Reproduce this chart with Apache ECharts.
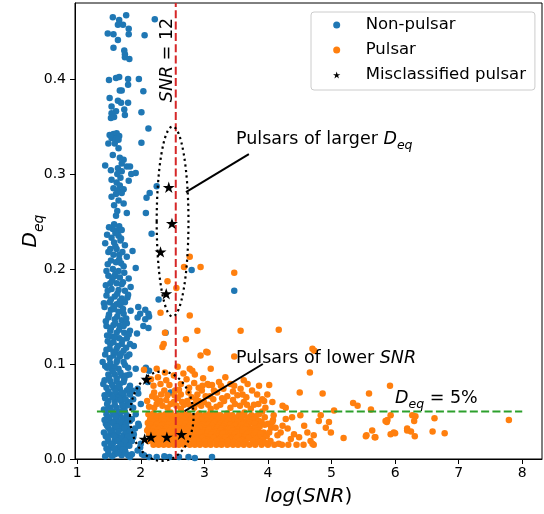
<!DOCTYPE html>
<html>
<head>
<meta charset="utf-8">
<script src="https://cdn.jsdelivr.net/npm/echarts@6/dist/echarts.min.js"></script>
<style>html,body{margin:0;padding:0;background:#fff}#chart{width:544px;height:514px}</style>
</head>
<body>
<div id="chart"></div>
<script>
// ---------------- data ----------------
const xTicks = [1, 2, 3, 4, 5, 6, 7, 8];
const yTicks = [0, 0.1, 0.2, 0.3, 0.4];
const snrThreshold = 2.55;      // log(SNR) of SNR = 12 line
const deqThreshold = 0.05;      // D_eq = 5% line
const deqLineRange = [1.31, 8.0];

const nonPulsar = [
[1.56,0.465],[1.66,0.462],[1.77,0.467],[1.64,0.457],[1.72,0.457],[1.81,0.453],[1.48,0.448],[1.57,0.447],[1.81,0.447],[1.64,0.441],[1.57,0.433],[1.74,0.430],[1.75,0.426],[1.75,0.423],[1.82,0.421],[2.06,0.446],[2.22,0.463],
[1.50,0.399],[1.61,0.401],[1.66,0.402],[1.80,0.400],[1.97,0.400],[1.80,0.394],[1.67,0.388],[1.70,0.388],[2.04,0.387],[1.51,0.380],[1.64,0.377],[1.69,0.375],[1.80,0.375],[1.54,0.371],[1.74,0.368],[1.61,0.366],[1.54,0.364],[2.01,0.365],[1.75,0.362],[1.53,0.359],[1.58,0.360],[2.12,0.348],[2.01,0.333],
[1.51,0.341],[1.57,0.342],[1.62,0.343],[1.66,0.340],[1.54,0.338],[1.61,0.337],[1.65,0.336],[1.49,0.332],[1.59,0.332],[1.65,0.327],[1.56,0.320],[1.67,0.317],[1.73,0.315],[1.70,0.311],[1.78,0.308],[1.44,0.309],[1.53,0.304],[1.64,0.306],[1.70,0.303],[1.83,0.308],[1.92,0.301],[1.85,0.300],[1.63,0.300],[1.68,0.296],[1.54,0.294],[1.62,0.291],[1.81,0.293],[1.67,0.288],[1.57,0.285],[1.64,0.283],[1.73,0.284],[2.25,0.287],[1.61,0.279],[1.70,0.280],[1.54,0.276],[2.14,0.280],[2.09,0.275],[1.65,0.272],[1.73,0.269],[1.58,0.267],[1.63,0.261],[1.78,0.259],[1.61,0.256],[2.08,0.259],[1.58,0.247],[1.66,0.245],[1.56,0.242],[1.63,0.240],[1.70,0.241],[2.17,0.237],
[1.54,0.233],[1.65,0.235],[1.44,0.227],[1.58,0.228],[1.68,0.230],[1.52,0.221],[1.62,0.221],[1.87,0.219],[1.57,0.215],[1.66,0.215],[1.78,0.213],[1.53,0.209],[1.61,0.207],[1.69,0.206],[1.92,0.201],[1.56,0.200],[1.65,0.198],[1.49,0.193],[1.58,0.192],[1.67,0.191],[1.52,0.185],[1.62,0.185],[1.72,0.186],[1.84,0.181],[1.54,0.179],[1.65,0.178],[1.75,0.177],[1.46,0.172],[1.59,0.171],[1.70,0.169],[2.28,0.168],[1.51,0.165],[1.62,0.163],[1.75,0.165],[1.96,0.160],[2.07,0.157],[2.12,0.153],[1.53,0.157],[1.65,0.155],[1.73,0.153],[1.99,0.153],[1.95,0.149],[2.13,0.150],[1.49,0.149],[1.59,0.147],[1.70,0.146],[2.07,0.147],[1.57,0.141],[1.67,0.140],[1.78,0.143],[2.04,0.140],[2.12,0.138],[1.52,0.135],[1.62,0.133],[1.83,0.135],[1.94,0.132],[2.39,0.133],[1.54,0.129],[1.66,0.127],[1.78,0.127],[1.57,0.123],[1.70,0.121],[1.83,0.121],[1.89,0.119],[1.51,0.116],[1.62,0.116],[1.73,0.114],[1.44,0.110],[1.57,0.109],[1.67,0.108],[1.40,0.102],[1.52,0.101],[1.62,0.102],[1.73,0.102],[1.54,0.095],[1.65,0.095],[1.80,0.096],[1.92,0.095],[2.08,0.096],[2.13,0.093],[1.49,0.089],[1.59,0.089],[1.70,0.088],[1.52,0.082],[1.62,0.082],[1.73,0.081],[2.11,0.081],[1.83,0.077],[1.46,0.075],[1.57,0.075],[1.67,0.074],[1.95,0.074],[1.86,0.072],[1.96,0.069],[1.52,0.068],[1.62,0.068],[1.73,0.067],[1.83,0.068],[1.88,0.063],[1.49,0.061],[1.59,0.061],[1.70,0.060],[1.80,0.060],[2.00,0.058],[1.52,0.054],[1.62,0.054],[1.73,0.053],[1.88,0.054],[1.46,0.047],[1.57,0.047],[1.67,0.046],[1.78,0.046],[1.92,0.047],[1.86,0.042],[1.52,0.040],[1.62,0.040],[1.73,0.039],[1.83,0.040],[1.96,0.037],[1.49,0.033],[1.59,0.033],[1.70,0.032],[1.80,0.032],[1.91,0.032],[1.97,0.035],[1.52,0.026],[1.62,0.026],[1.73,0.025],[1.89,0.026],[1.88,0.023],[1.49,0.019],[1.59,0.019],[1.70,0.018],[1.80,0.018],[1.86,0.019],[2.00,0.016],[1.54,0.012],[1.65,0.012],[1.75,0.011],[1.99,0.012],[1.95,0.009],[1.49,0.005],[1.59,0.005],[1.70,0.004],[1.80,0.004],[1.86,0.005],[2.02,0.005],[2.05,0.004],[2.13,0.002],[2.25,0.002],[2.37,0.003],[2.45,0.002],[2.60,0.002],[2.75,0.002],[2.85,0.001],[3.12,0.002],
[1.47,0.236],[1.60,0.224],[1.71,0.218],[1.48,0.205],[1.74,0.196],[1.45,0.183],[1.79,0.170],[1.43,0.160],[1.58,0.158],[1.68,0.162],[1.46,0.140],[1.74,0.133],[1.48,0.124],[1.60,0.112],[1.78,0.108],[1.47,0.096],[1.59,0.097],[1.77,0.088],[1.43,0.083],[1.67,0.079],[1.78,0.072],[1.44,0.064],[1.65,0.065],[1.77,0.056],[1.48,0.052],[1.68,0.050],[1.61,0.043],[1.45,0.037],[1.66,0.036],[1.76,0.029],[1.55,0.029],[1.45,0.024],[1.67,0.022],[1.56,0.016],[1.77,0.015],[1.46,0.011],[1.60,0.009],[1.70,0.008],[2.47,0.070],[2.47,0.035],[2.80,0.199],[3.47,0.177],
[1.50,0.244],[1.60,0.238],[1.69,0.232],[1.75,0.225],[1.49,0.218],[1.66,0.210],[1.73,0.203],[1.46,0.198],[1.60,0.195],[1.81,0.190],[1.55,0.188],[1.70,0.184],[1.48,0.177],[1.63,0.174],[1.80,0.173],[1.53,0.168],[1.67,0.166],[1.42,0.164],[1.57,0.161],[1.72,0.158],[1.84,0.156],[1.50,0.152],[1.63,0.150],[1.77,0.148],[1.45,0.145],[1.60,0.143],[1.73,0.140],[1.53,0.138],[1.66,0.136],[1.81,0.131],[1.47,0.130],[1.59,0.128],[1.71,0.125],[1.52,0.121],[1.64,0.119],[1.77,0.117],[1.46,0.115],[1.57,0.113],[1.69,0.111],[1.82,0.110],[1.51,0.106],[1.63,0.104],[1.75,0.099],[1.44,0.098],[1.56,0.092],[1.68,0.091],[1.82,0.089],[1.50,0.086],[1.62,0.085],[1.74,0.084],[1.41,0.079],[1.55,0.078],[1.64,0.076],[1.81,0.074],[1.49,0.071],[1.60,0.071],[1.70,0.070],[1.43,0.067],[1.56,0.065],[1.68,0.062],[1.76,0.063],[1.47,0.058],[1.59,0.057],[1.71,0.056],[1.83,0.057],[1.42,0.052],[1.55,0.050],[1.65,0.049],[1.75,0.050],[1.50,0.044],[1.60,0.045],[1.71,0.043],[1.80,0.043],[1.43,0.041],[1.56,0.038],[1.67,0.039],[1.77,0.037],[1.47,0.035],[1.62,0.034],[1.74,0.033],[1.52,0.030],[1.65,0.029],[1.83,0.029],[1.42,0.028],[1.58,0.024],[1.70,0.023],[1.80,0.024],[1.48,0.022],[1.63,0.019],[1.75,0.019],[1.53,0.015],[1.68,0.015],[1.82,0.014],[1.43,0.016],[1.58,0.011],[1.72,0.010],[1.49,0.008],[1.64,0.006],[1.76,0.007],[1.55,0.003],[1.83,0.002],[1.44,0.003]
];

const pulsar = [
[2.77,0.213],[2.68,0.202],[2.94,0.202],[3.47,0.196],[2.42,0.187],[2.56,0.180],[2.31,0.154],[2.77,0.151],[2.38,0.133],[2.89,0.135],[2.71,0.126],[2.34,0.118],[2.36,0.121],[3.03,0.113],[3.57,0.135],[4.17,0.136],[4.70,0.116],[4.73,0.114],[3.47,0.108],[2.94,0.109],[3.05,0.112],[4.66,0.091],
[2.05,0.094],[2.25,0.095],[2.77,0.095],[2.81,0.093],[2.85,0.089],[3.10,0.095],[2.16,0.084],[2.52,0.088],[2.63,0.079],[2.31,0.079],[2.76,0.075],[2.91,0.075],[3.05,0.079],[3.23,0.081],[3.41,0.079],[3.57,0.074],[2.97,0.077],[3.07,0.078],[3.26,0.077],[3.47,0.077],[3.68,0.079],[3.86,0.077],[4.02,0.078],[3.99,0.068],[4.50,0.070],[4.86,0.069],[5.59,0.069],[5.92,0.077],[2.21,0.070],[2.42,0.067],[2.63,0.068],[2.89,0.068],[3.20,0.070],[3.52,0.067],[3.83,0.068],
[2.10,0.061],[2.31,0.061],[2.52,0.060],[2.73,0.061],[2.99,0.060],[3.31,0.061],[3.62,0.060],[3.94,0.061],[2.21,0.054],[2.42,0.054],[2.63,0.053],[2.84,0.054],[3.10,0.053],[3.41,0.054],[3.73,0.053],[5.34,0.059],[5.41,0.056],[5.04,0.051],[4.23,0.056],[4.28,0.054],[4.07,0.060],[3.91,0.063],[3.96,0.054],[5.62,0.052],
[2.18,0.066],[2.37,0.072],[2.47,0.058],[2.58,0.064],[2.68,0.057],[2.80,0.065],[2.95,0.056],[3.14,0.063],[3.25,0.057],[3.36,0.066],[3.48,0.058],[3.66,0.065],[3.78,0.057],[2.27,0.086],[2.45,0.078],[2.72,0.084],[2.98,0.085],[3.15,0.072],[3.33,0.086],[3.62,0.083],[3.75,0.072],[2.54,0.072],[2.86,0.058],[3.02,0.066],[3.56,0.056],
[2.13,0.055],[2.25,0.058],[2.34,0.056],[2.56,0.056],[2.77,0.057],[2.91,0.061],[3.06,0.057],[3.19,0.055],[3.45,0.062],[3.67,0.057],[3.85,0.058],[2.24,0.064],[2.40,0.062],[2.65,0.060],[2.87,0.063],[3.09,0.066],[3.28,0.064],[3.45,0.071],[3.60,0.068],[2.32,0.068],[2.53,0.067],[2.75,0.070],[2.96,0.072],[3.12,0.078],[3.30,0.074],[2.20,0.077],[2.40,0.083],[2.60,0.073],[2.84,0.080],[2.67,0.090],[2.38,0.091],[2.58,0.097],
[2.12,0.047],[2.20,0.048],[2.31,0.046],[2.39,0.047],[2.47,0.049],[2.58,0.046],[2.66,0.048],[2.75,0.047],[2.83,0.045],[2.92,0.048],[3.01,0.046],[3.09,0.048],[3.18,0.047],[3.27,0.045],[3.36,0.048],[3.44,0.046],[3.55,0.047],[3.63,0.049],[3.74,0.046],[3.86,0.047],
[2.17,0.045],[2.26,0.045],[2.35,0.044],[2.44,0.045],[2.54,0.045],[2.63,0.044],[2.72,0.045],[2.81,0.044],[2.90,0.046],[2.99,0.044],[3.07,0.045],[3.16,0.044],[3.25,0.046],[3.34,0.044],[3.42,0.045],[3.52,0.044],[3.61,0.046],[3.70,0.044],[3.81,0.045],
[2.15,0.043],[2.24,0.042],[2.33,0.044],[2.43,0.042],[2.52,0.043],[2.61,0.041],[2.70,0.043],[2.79,0.042],[2.88,0.044],[2.97,0.042],[3.05,0.043],[3.14,0.041],[3.23,0.043],[3.31,0.044],[3.40,0.042],[3.49,0.043],[3.58,0.041],[3.68,0.043],[3.79,0.042],[3.95,0.044],[4.08,0.041],
[2.14,0.040],[2.23,0.040],[2.33,0.040],[2.41,0.041],[2.50,0.040],[2.60,0.040],[2.68,0.041],[2.77,0.040],[2.86,0.040],[2.95,0.041],[3.04,0.040],[3.12,0.040],[3.21,0.041],[3.30,0.040],[3.38,0.040],[3.47,0.041],[3.56,0.040],[3.66,0.040],[3.76,0.041],[3.86,0.040],
[2.11,0.038],[2.19,0.039],[2.28,0.037],[2.37,0.039],[2.45,0.038],[2.55,0.037],[2.64,0.039],[2.73,0.038],[2.81,0.036],[2.90,0.039],[2.99,0.037],[3.08,0.038],[3.16,0.039],[3.25,0.037],[3.34,0.038],[3.43,0.036],[3.52,0.039],[3.61,0.037],[3.71,0.038],[3.82,0.036],[3.90,0.039],[4.00,0.037],
[2.16,0.036],[2.25,0.036],[2.34,0.036],[2.43,0.036],[2.52,0.036],[2.61,0.036],[2.70,0.037],[2.79,0.036],[2.88,0.036],[2.97,0.036],[3.06,0.036],[3.14,0.037],[3.23,0.035],[3.32,0.036],[3.41,0.036],[3.50,0.036],[3.59,0.036],[3.69,0.036],[3.79,0.037],[3.95,0.036],
[2.14,0.034],[2.23,0.033],[2.32,0.035],[2.41,0.033],[2.50,0.034],[2.59,0.032],[2.68,0.034],[2.77,0.035],[2.86,0.033],[2.95,0.034],[3.03,0.032],[3.12,0.035],[3.21,0.033],[3.30,0.034],[3.39,0.032],[3.47,0.035],[3.56,0.033],[3.66,0.034],[3.76,0.032],[3.87,0.034],[4.05,0.033],
[2.12,0.032],[2.21,0.032],[2.30,0.032],[2.39,0.031],[2.48,0.032],[2.57,0.032],[2.66,0.032],[2.75,0.033],[2.84,0.032],[2.93,0.032],[3.01,0.030],[3.10,0.032],[3.19,0.031],[3.28,0.032],[3.37,0.030],[3.42,0.032],[3.51,0.031],[3.61,0.032],[3.70,0.031],[3.80,0.032],
[2.10,0.030],[2.18,0.029],[2.27,0.031],[2.36,0.029],[2.46,0.030],[2.54,0.028],[2.63,0.030],[2.72,0.031],[2.80,0.029],[2.89,0.030],[2.98,0.028],[3.07,0.031],[3.17,0.029],[3.26,0.030],[3.35,0.028],[3.45,0.030],[3.54,0.029],[3.64,0.031],[3.73,0.029],[3.84,0.030],[3.93,0.028],
[2.16,0.028],[2.25,0.028],[2.33,0.029],[2.43,0.027],[2.51,0.028],[2.60,0.028],[2.69,0.028],[2.78,0.029],[2.87,0.027],[2.96,0.028],[3.05,0.028],[3.14,0.028],[3.23,0.027],[3.32,0.028],[3.41,0.027],[3.51,0.028],[3.60,0.028],[3.70,0.027],[3.81,0.028],[3.91,0.026],
[2.13,0.026],[2.22,0.025],[2.30,0.027],[2.40,0.025],[2.49,0.026],[2.57,0.024],[2.66,0.026],[2.76,0.027],[2.85,0.025],[2.93,0.026],[3.02,0.024],[3.11,0.026],[3.20,0.025],[3.29,0.027],[3.38,0.025],[3.48,0.026],[3.57,0.024],[3.67,0.026],[3.78,0.025],[3.88,0.027],[3.98,0.024],
[2.19,0.024],[2.28,0.023],[2.37,0.024],[2.46,0.024],[2.55,0.024],[2.64,0.023],[2.73,0.024],[2.82,0.024],[2.91,0.023],[3.00,0.024],[3.09,0.023],[3.18,0.024],[3.27,0.023],[3.36,0.024],[3.45,0.023],[3.54,0.024],[3.63,0.023],[3.73,0.024],[3.85,0.023],
[2.16,0.022],[2.25,0.021],[2.35,0.023],[2.44,0.021],[2.53,0.022],[2.62,0.020],[2.71,0.022],[2.80,0.023],[2.89,0.021],[2.97,0.022],[3.06,0.020],[3.15,0.022],[3.24,0.021],[3.33,0.023],[3.42,0.021],[3.51,0.022],[3.60,0.020],[3.70,0.022],[3.81,0.021],[3.92,0.020],
[2.18,0.020],[2.33,0.020],[2.51,0.020],[2.68,0.020],[2.86,0.020],[3.03,0.020],[3.22,0.020],[3.40,0.020],[3.58,0.020],[3.76,0.019],[3.87,0.018],
[2.12,0.019],[2.21,0.018],[2.29,0.019],[2.38,0.018],[2.48,0.019],[2.56,0.018],[2.65,0.019],[2.74,0.018],[2.83,0.019],[2.92,0.018],[3.00,0.019],[3.10,0.018],[3.19,0.019],[3.28,0.018],[3.37,0.019],[3.46,0.018],[3.55,0.019],[3.65,0.018],
[2.20,0.015],[2.28,0.015],[2.36,0.015],[2.44,0.015],[2.52,0.015],[2.60,0.015],[2.68,0.015],[2.77,0.015],[2.85,0.015],[2.93,0.015],[3.02,0.015],[3.10,0.015],[3.19,0.015],[3.27,0.015],[3.36,0.015],[3.45,0.015],[3.53,0.015],[3.62,0.015],[3.71,0.015],[3.80,0.015],[3.90,0.015],[4.00,0.015],[4.10,0.015],[4.22,0.015],[4.32,0.015],[4.45,0.015],[4.56,0.015],[4.72,0.015],
[4.51,0.046],[4.83,0.046],[4.80,0.040],[4.96,0.039],[4.91,0.033],[4.99,0.028],[5.19,0.022],[5.55,0.025],[5.64,0.030],[5.69,0.023],[5.88,0.041],[5.87,0.039],[5.93,0.026],[5.98,0.028],[4.57,0.035],[4.62,0.028],[4.72,0.025],[4.67,0.019],[4.70,0.016],[4.41,0.026],[4.49,0.023],[4.36,0.021],[4.31,0.032],[4.20,0.028],[4.23,0.035],[4.38,0.044],[4.28,0.042],[4.09,0.046],[4.07,0.039],[4.12,0.033],[4.02,0.028],[4.15,0.025],[4.04,0.019],[4.17,0.016],[3.91,0.050],[3.96,0.017],
[6.27,0.046],[6.32,0.045],[6.30,0.040],[6.62,0.043],[7.79,0.041],[6.19,0.032],[6.19,0.030],[6.25,0.029],[6.31,0.024],[6.59,0.029],[6.78,0.027],[6.00,0.027],[5.93,0.046],[5.85,0.040],[5.54,0.024],[5.68,0.023]
];

const misclassified = [
[2.44,0.286],[2.49,0.248],[2.31,0.218],[2.40,0.174],[2.09,0.084],[2.06,0.021],[2.16,0.023],[2.41,0.023],[2.64,0.026]
];

// annotation geometry (data units): [cx, cy, rx, ry]
const ellipses = [[2.50, 0.250, 0.25, 0.100], [2.33, 0.045, 0.50, 0.047]];
const connectorLarger = [[2.71, 0.281], [3.70, 0.321]];
const connectorLower = [[2.69, 0.0505], [3.92, 0.100]];

// ---------------- chart ----------------
const FONT = 'DejaVu Sans';
const STAR = 'path://M10,0 L12.25,6.91 L19.51,6.91 L13.63,11.18 L15.88,18.09 L10,13.82 L4.12,18.09 L6.37,11.18 L0.49,6.91 L7.75,6.91 Z';
const chart = echarts.init(document.getElementById('chart'), null, {renderer: 'canvas'});

const richBase = {
  n: {fontFamily: FONT, fontSize: 17.5, color: '#000', lineHeight: 26, verticalAlign: 'middle'},
  i: {fontFamily: FONT, fontSize: 17.5, fontStyle: 'italic', color: '#000', lineHeight: 26, verticalAlign: 'middle'},
  s: {fontFamily: FONT, fontSize: 12.5, fontStyle: 'italic', color: '#000', lineHeight: 12, verticalAlign: 'bottom'}
};
function textEl(x, y, text, rotation) {
  return {
    type: 'text', x: x, y: y, rotation: rotation || 0, silent: true, z: 100,
    style: {text: text, rich: richBase, x: 0, y: 0, align: rotation ? 'center' : 'left', verticalAlign: 'middle'}
  };
}

const option = {
  animation: false,
  backgroundColor: '#fff',
  grid: {left: 75, right: 2, top: 3, bottom: 55, show: true, borderColor: '#000', borderWidth: 1, backgroundColor: 'transparent', containLabel: false, outerBoundsMode: 'none'},
  xAxis: {
    type: 'value', min: 0.965, max: 8.311,
    name: '{i|log}{n|(}{i|SNR}{n|)}', nameLocation: 'middle', nameGap: 28, nameMoveOverlap: false,
    nameTextStyle: {rich: {
      i: {fontFamily: FONT, fontSize: 20, fontStyle: 'italic', color: '#000'},
      n: {fontFamily: FONT, fontSize: 20, color: '#000'}
    }},
    axisLine: {show: true, onZero: false, lineStyle: {color: '#000', width: 1}},
    axisTick: {show: true, customValues: xTicks, length: 5, lineStyle: {color: '#000', width: 1}},
    axisLabel: {show: true, customValues: xTicks, formatter: v => String(v), fontFamily: FONT, fontSize: 14, color: '#000', margin: 7},
    splitLine: {show: false}
  },
  yAxis: {
    type: 'value', min: 0, max: 0.48,
    name: '{i|D}{s|eq}', nameLocation: 'middle', nameGap: 29, nameRotate: 90, nameMoveOverlap: false,
    nameTextStyle: {rich: {
      i: {fontFamily: FONT, fontSize: 20, fontStyle: 'italic', color: '#000', lineHeight: 30, verticalAlign: 'middle'},
      s: {fontFamily: FONT, fontSize: 14, fontStyle: 'italic', color: '#000', lineHeight: 14, verticalAlign: 'bottom'}
    }},
    axisLine: {show: true, onZero: false, lineStyle: {color: '#000', width: 1}},
    axisTick: {show: true, customValues: yTicks, length: 5, lineStyle: {color: '#000', width: 1}},
    axisLabel: {show: true, customValues: yTicks, formatter: v => v.toFixed(1), fontFamily: FONT, fontSize: 14, color: '#000', margin: 9},
    splitLine: {show: false}
  },
  legend: {
    data: [
      {name: 'Non-pulsar', icon: 'circle'},
      {name: 'Pulsar', icon: 'circle'},
      {name: 'Misclassified pulsar', icon: STAR}
    ],
    orient: 'vertical', left: 311, top: 12,
    itemWidth: 48, itemHeight: 7, itemGap: 7,
    padding: [4, 9, 6, 22],
    backgroundColor: 'rgba(255,255,255,0.8)', borderColor: '#cccccc', borderWidth: 1, borderRadius: 3,
    textStyle: {fontFamily: FONT, fontSize: 16.5, color: '#000', lineHeight: 18},
    selectedMode: false
  },
  graphic: [
    textEl(167, 60, '{i|SNR}{n| = 12}', Math.PI / 2),
    textEl(236, 139, '{n|Pulsars of larger }{i|D}{s|eq}'),
    textEl(236, 358, '{n|Pulsars of lower }{i|SNR}'),
    textEl(395, 398, '{i|D}{s|eq}{n| = 5%}')
  ],
  series: [
    {name: 'Non-pulsar', type: 'scatter', data: nonPulsar, symbol: 'circle', symbolSize: 6.5, itemStyle: {color: '#1f77b4', opacity: 1}, z: 2, silent: true},
    {name: 'Pulsar', type: 'scatter', data: pulsar, symbol: 'circle', symbolSize: 6.5, itemStyle: {color: '#ff7f0e', opacity: 1}, z: 3, silent: true},
    {name: 'Misclassified pulsar', type: 'scatter', data: misclassified, symbol: STAR, symbolKeepAspect: true, symbolSize: 12, itemStyle: {color: '#000', opacity: 1}, z: 6, silent: true},
    {name: 'snrLine', type: 'line', data: [[snrThreshold, 0], [snrThreshold, 0.48]], symbol: 'none', silent: true, z: 4,
      lineStyle: {color: '#d62728', width: 2, type: [8, 3.3]}},
    {name: 'deqLine', type: 'line', data: [[deqLineRange[0], deqThreshold], [deqLineRange[1], deqThreshold]], symbol: 'none', silent: true, z: 4,
      lineStyle: {color: '#2ca02c', width: 2, type: [8, 3.3]}},
    {name: 'ellipses', type: 'custom', data: ellipses, silent: true, z: 5, encode: {x: 0, y: 1},
      renderItem: function (params, api) {
        const c = api.coord([api.value(0), api.value(1)]);
        const s = api.size([api.value(2), api.value(3)]);
        return {type: 'ellipse', shape: {cx: c[0], cy: c[1], rx: s[0], ry: s[1]},
          style: {fill: null, stroke: '#000', lineWidth: 2.2, lineDash: [2.2, 3.4]}};
      }},
    {name: 'connLarger', type: 'line', data: connectorLarger, symbol: 'none', silent: true, z: 5, lineStyle: {color: '#000', width: 2}},
    {name: 'connLower', type: 'line', data: connectorLower, symbol: 'none', silent: true, z: 5, lineStyle: {color: '#000', width: 2}}
  ]
};
chart.setOption(option);
</script>
</body>
</html>
